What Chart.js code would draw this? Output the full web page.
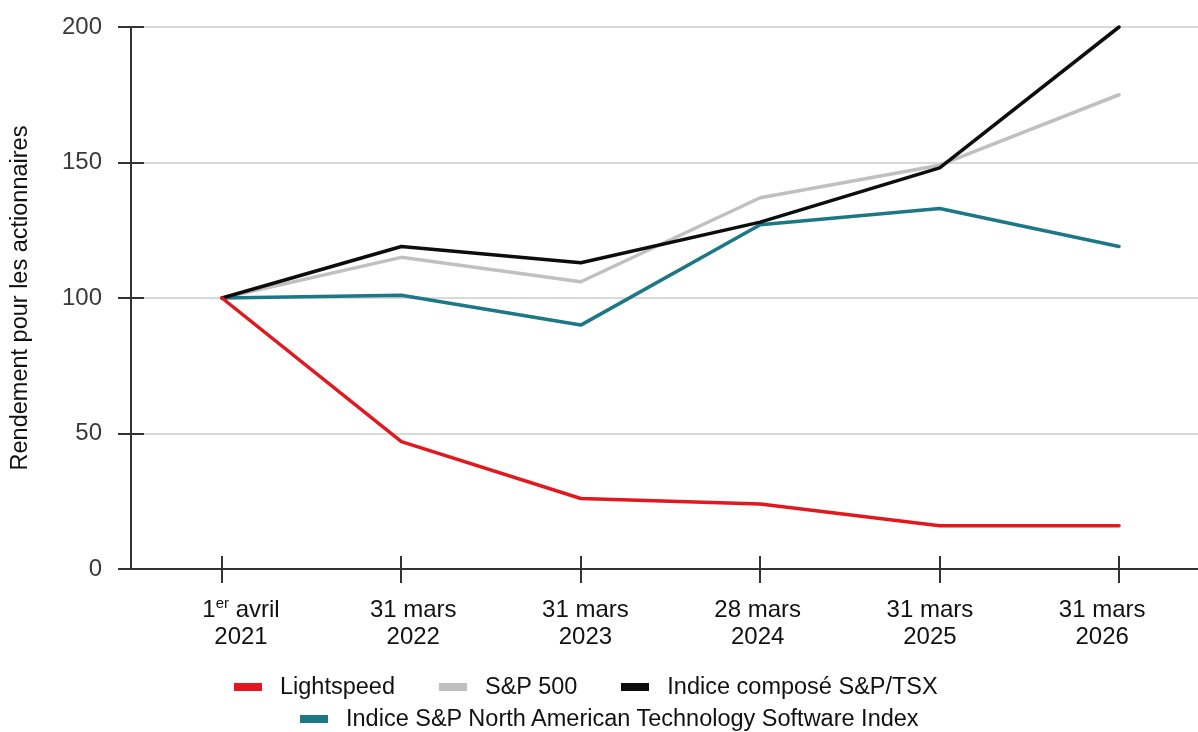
<!DOCTYPE html>
<html>
<head>
<meta charset="utf-8">
<script src="https://cdn.jsdelivr.net/npm/chart.js@4"></script>
<style>
  html, body { margin: 0; padding: 0; background: #fff; }
  #wrap { position: relative; width: 1198px; height: 732px; }
  .legend-row { position: absolute; display: flex; align-items: center; font: 23.5px "Liberation Sans", Arial, sans-serif; color: #111; white-space: nowrap; }
  .legend-item { display: flex; align-items: center; margin-right: 44px; }
  .legend-box { width: 28px; height: 8px; margin-right: 18px; }
</style>
</head>
<body>
<div id="wrap">
  <canvas id="chart" width="1198" height="732"></canvas>
  <div class="legend-row" id="row1" style="left:234px; top:673px;"></div>
  <div class="legend-row" id="row2" style="left:300px; top:705px;"></div>
</div>
<script>
const canvas = document.getElementById('chart');
const ctx = canvas.getContext('2d');

// x labels, text between | | is superscript
const xLabels = [
  ['1|er| avril', '2021'],
  ['31 mars', '2022'],
  ['31 mars', '2023'],
  ['28 mars', '2024'],
  ['31 mars', '2025'],
  ['31 mars', '2026']
];
const yTicks = [0, 50, 100, 150, 200];

const lightspeed = [100, 47, 26, 24, 16, 16];
const sp500 = [100, 115, 106, 137, 149, 175];
const tsx = [100, 119, 113, 128, 148, 200];
const techSoftware = [100, 101, 90, 127, 133, 119];

const seriesNames = ['Lightspeed', 'S&P 500', 'Indice composé S&P/TSX', 'Indice S&P North American Technology Software Index'];
const seriesColors = ['#e3181f', '#c0c0c0', '#0d0d0d', '#1c7886'];

const FONT = '"Liberation Sans", Arial, sans-serif';

function toPoints(arr) {
  return arr.map(function(v, i) { return { x: i, y: v }; });
}

// legend
seriesNames.forEach(function(name, i) {
  const row = document.getElementById(i < 3 ? 'row1' : 'row2');
  const item = document.createElement('div');
  item.className = 'legend-item';
  const box = document.createElement('span');
  box.className = 'legend-box';
  box.style.background = seriesColors[i];
  const txt = document.createElement('span');
  txt.textContent = name;
  item.appendChild(box);
  item.appendChild(txt);
  row.appendChild(item);
});

// tick marks crossing the axes + x labels with superscript
const axisMarks = {
  id: 'axisMarks',
  afterDraw(chart) {
    const c = chart.ctx;
    const x = chart.scales.x;
    const y = chart.scales.y;
    const left = chart.chartArea.left;
    const bottom = chart.chartArea.bottom;
    c.save();
    c.strokeStyle = '#333';
    c.lineWidth = 2;
    yTicks.forEach(function(v) {
      const py = Math.round(y.getPixelForValue(v));
      c.beginPath();
      c.moveTo(left - 13, py);
      c.lineTo(left + 13, py);
      c.stroke();
    });
    xLabels.forEach(function(lab, i) {
      const px = Math.round(x.getPixelForValue(i));
      c.beginPath();
      c.moveTo(px, bottom - 13);
      c.lineTo(px, bottom + 14);
      c.stroke();
    });

    // labels sit on a slightly tighter spacing than the tick marks
    c.fillStyle = '#111';
    c.textBaseline = 'alphabetic';
    xLabels.forEach(function(lab, i) {
      const px = x.getPixelForValue(0.106 + i * 0.96);
      lab.forEach(function(line, li) {
        const baseY = bottom + 48 + li * 27;
        const parts = line.split('|');
        let total = 0;
        const widths = parts.map(function(p, k) {
          c.font = (k % 2 ? '15px ' : '24px ') + FONT;
          const w = c.measureText(p).width;
          total += w;
          return w;
        });
        let cx = px - total / 2;
        c.textAlign = 'left';
        parts.forEach(function(p, k) {
          c.font = (k % 2 ? '15px ' : '24px ') + FONT;
          c.fillText(p, cx, k % 2 ? baseY - 9 : baseY);
          cx += widths[k];
        });
      });
    });
    c.restore();
  }
};

const config = {
  type: 'line',
  data: {
    datasets: [
      { label: seriesNames[0], data: toPoints(lightspeed), borderColor: seriesColors[0], order: 0 },
      { label: seriesNames[1], data: toPoints(sp500), borderColor: seriesColors[1], order: 3 },
      { label: seriesNames[2], data: toPoints(tsx), borderColor: seriesColors[2], order: 1 },
      { label: seriesNames[3], data: toPoints(techSoftware), borderColor: seriesColors[3], order: 2 }
    ]
  },
  options: {
    responsive: false,
    animation: false,
    layout: { padding: { top: 27, right: 0, left: 0, bottom: 0 } },
    elements: {
      line: { borderWidth: 3.5, tension: 0, fill: false, borderJoinStyle: 'round', borderCapStyle: 'round' },
      point: { radius: 0, hoverRadius: 0 }
    },
    datasets: { line: { clip: false } },
    plugins: {
      legend: { display: false },
      tooltip: { enabled: false }
    },
    scales: {
      x: {
        type: 'linear',
        min: -0.507,
        max: 5.44,
        grid: { display: false },
        border: { display: true, color: '#333', width: 2 },
        ticks: { display: false },
        afterFit: function(scale) {
          scale.height = 163;
          scale.paddingLeft = 0;
          scale.paddingRight = 0;
        }
      },
      y: {
        min: 0,
        max: 200,
        afterBuildTicks: function(scale) {
          scale.ticks = yTicks.map(function(v) { return { value: v }; });
        },
        grid: { color: '#d9d9d9', lineWidth: 2, drawTicks: false },
        border: { display: true, color: '#333', width: 2 },
        ticks: {
          padding: 29,
          color: '#3a3a3a',
          font: { family: FONT, size: 24 }
        },
        title: {
          display: true,
          text: 'Rendement pour les actionnaires',
          color: '#111',
          font: { family: FONT, size: 23.5 },
          padding: { top: 6, bottom: 0 }
        },
        afterFit: function(scale) {
          scale.width = 131;
          scale.paddingTop = 0;
          scale.paddingBottom = 0;
        }
      }
    }
  },
  plugins: [axisMarks]
};

new Chart(ctx, config);
</script>
</body>
</html>
